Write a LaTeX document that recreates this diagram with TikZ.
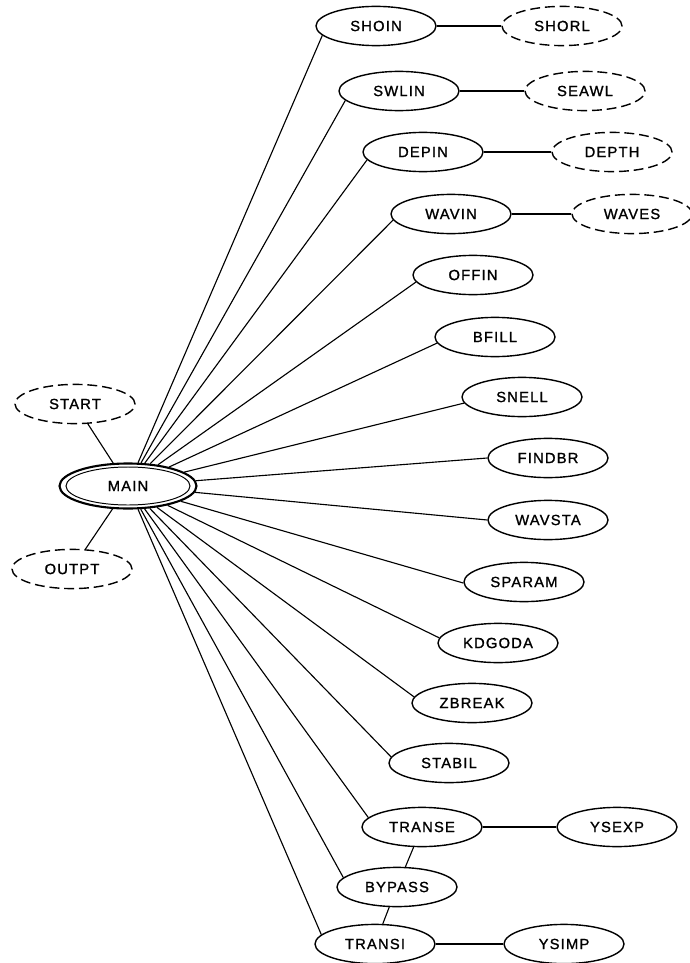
\documentclass[tikz,border=0pt]{standalone}
\usepackage{fontspec}
\setsansfont{Liberation Sans}[LetterSpace=8,FakeBold=1.2]
\usepackage{tikz}
\usetikzlibrary{shapes.geometric,positioning}

\begin{document}
\begin{tikzpicture}[line width=0.8pt,
  every node/.style={font=\sffamily\fontsize{10.5}{12}\selectfont},
  sub/.style={ellipse,draw,line width=1pt,minimum width=3cm,minimum height=0.98cm,inner sep=0pt},
  ext/.style={sub,dash pattern=on 7pt off 3.5pt}]
  \useasboundingbox (0,0) rectangle (17.225,-24.075);
  % main program
  \node[ellipse,draw,line width=1.5pt,minimum width=3.425cm,minimum height=1.125cm,inner sep=0pt] (main) at (3.2,-12.15) {MAIN};
  \draw[line width=0.7pt] (main.center) ellipse [x radius=1.55cm,y radius=0.475cm];
  \node[ext] (start) at (1.875,-10.1) {START};
  \node[ext] (outpt) at (1.8,-14.225) {OUTPT};
  % input routines
  \node[sub] (shoin) at (9.4,-0.65) {SHOIN};
  \node[ext] (shorl) at (14.05,-0.65) {SHORL};
  \node[sub] (swlin) at (9.975,-2.275) {SWLIN};
  \node[ext] (seawl) at (14.625,-2.275) {SEAWL};
  \node[sub] (depin) at (10.575,-3.8) {DEPIN};
  \node[ext] (depth) at (15.3,-3.8) {DEPTH};
  \node[sub] (wavin) at (11.275,-5.35) {WAVIN};
  \node[ext] (waves) at (15.8,-5.35) {WAVES};
  \node[sub] (offin) at (11.825,-6.875) {OFFIN};
  % computation
  \node[sub] (bfill) at (12.375,-8.425) {BFILL};
  \node[sub] (snell) at (13.05,-9.925) {SNELL};
  \node[sub] (findbr) at (13.7,-11.45) {FINDBR};
  \node[sub] (wavsta) at (13.7,-13.0) {WAVSTA};
  \node[sub] (sparam) at (13.1,-14.55) {SPARAM};
  \node[sub] (kdgoda) at (12.45,-16.075) {KDGODA};
  \node[sub] (zbreak) at (11.8,-17.575) {ZBREAK};
  \node[sub] (stabil) at (11.225,-19.075) {STABIL};
  \node[sub] (transe) at (10.55,-20.675) {TRANSE};
  \node[sub] (ysexp) at (15.425,-20.675) {YSEXP};
  \node[sub] (bypass) at (9.925,-22.175) {BYPASS};
  \node[sub] (transi) at (9.375,-23.6) {TRANSI};
  \node[sub] (ysimp) at (14.1,-23.6) {YSIMP};
  % calls
  \draw (start) -- (main);
  \draw (outpt) -- (main);
  \draw (main) -- (shoin.190);
  \draw (main) -- (swlin.190);
  \draw (main) -- (depin.188);
  \draw (main) -- (wavin.186);
  \draw (main) -- (offin.187);
  \draw (main) -- (bfill.186);
  \draw (main) -- (snell.186);
  \draw (main) -- (findbr.180);
  \draw (main) -- (wavsta.180);
  \draw (main) -- (sparam.181);
  \draw (main) -- (kdgoda.175);
  \draw (main) -- (zbreak.174);
  \draw (main) -- (stabil.174);
  \draw (main) -- (transe.170);
  \draw (main) -- (bypass.170);
  \draw (main) -- (transi.170);
  \draw (shoin) -- (shorl);
  \draw (swlin) -- (seawl);
  \draw (depin) -- (depth);
  \draw (wavin) -- (waves);
  \draw (transe) -- (ysexp);
  \draw (transi) -- (ysimp);
  \draw (transe) -- (bypass);
  \draw (bypass) -- (transi);
\end{tikzpicture}
\end{document}
